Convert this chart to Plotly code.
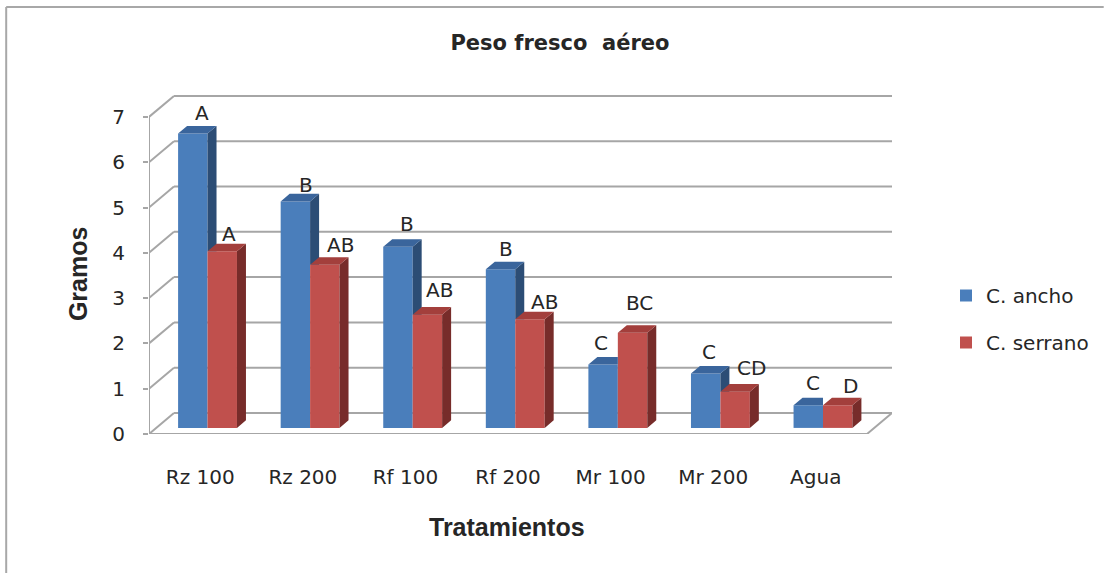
import plotly.graph_objects as go

CATEGORIES = ["Rz 100", "Rz 200", "Rf 100", "Rf 200", "Mr 100", "Mr 200", "Agua"]
ANCHO = [6.5, 5.0, 4.0, 3.5, 1.4, 1.2, 0.5]
SERRANO = [3.9, 3.6, 2.5, 2.4, 2.1, 0.8, 0.5]
ANCHO_LABELS = ["A", "B", "B", "B", "C", "C", "C"]
SERRANO_LABELS = ["A", "AB", "AB", "AB", "BC", "CD", "D"]
Y_TICKS = [0, 1, 2, 3, 4, 5, 6, 7]

# label nudges in pixels
ANCHO_NUDGE = [(9, 20), (11, 16), (9, 23), (5, 20), (-2, 21), (3, 22), (5, 22)]
SERRANO_NUDGE = [(7, 17), (16, 20), (12, 25), (15, 17), (7, 30), (16, 24), (13, 19)]

# plot geometry
W, H = 1105, 573
L, R, T, B = 149, 893, 90, 434
WALL_DX = 25 / 102.71     # wall depth, category units
WALL_DY = 21 / 45.3       # wall depth, value units
BAR_POS = 0.29            # depth of bar front as a share of wall depth
BAR_DEPTH = 0.36
BAR_W = 0.287

BLUE, BLUE_SIDE, BLUE_TOP = "#4a7ebb", "#2c4d75", "#3a659c"
RED, RED_SIDE, RED_TOP = "#c0504d", "#772c2a", "#a33f3c"
GRID = "#a6a6a6"
TEXT = "#262626"
SANS = "DejaVu Sans, sans-serif"
BOLD = "Liberation Sans, sans-serif"

shift_x = BAR_POS * WALL_DX
base_y = BAR_POS * WALL_DY
dx = BAR_DEPTH * WALL_DX
dy = BAR_DEPTH * WALL_DY
xs = [i + shift_x for i in range(len(CATEGORIES))]


def poly(store, pts):
    for p in pts + [pts[0], (None, None)]:
        store[0].append(p[0])
        store[1].append(p[1])


b_side, b_top, r_side, r_top = ([], []), ([], []), ([], []), ([], [])
for x, vb, vr in zip(xs, ANCHO, SERRANO):
    bt, rt = base_y + vb, base_y + vr
    if vb > vr:
        poly(b_side, [(x, bt), (x + dx, bt + dy), (x + dx, rt), (x, rt)])
        poly(b_top, [(x - BAR_W, bt), (x, bt), (x + dx, bt + dy), (x - BAR_W + dx, bt + dy)])
    else:
        poly(b_top, [(x - BAR_W, bt), (x, bt), (x, bt + dy), (x - BAR_W + dx, bt + dy)])
    xr = x + BAR_W
    poly(r_side, [(xr, rt), (xr + dx, rt + dy), (xr + dx, base_y + dy), (xr, base_y)])
    poly(r_top, [(x, rt), (xr, rt), (xr + dx, rt + dy), (x + dx, rt + dy)])

fig = go.Figure()
fig.add_trace(go.Bar(x=xs, y=ANCHO, base=base_y, name="C. ancho", marker=dict(color=BLUE, line_width=0), legendgroup="a"))
fig.add_trace(go.Bar(x=xs, y=SERRANO, base=base_y, name="C. serrano", marker=dict(color=RED, line_width=0), legendgroup="b"))
for data, col in ((b_side, BLUE_SIDE), (b_top, BLUE_TOP), (r_side, RED_SIDE), (r_top, RED_TOP)):
    fig.add_trace(go.Scatter(x=data[0], y=data[1], mode="lines", fill="toself", fillcolor=col,
                             line=dict(width=0, color=col), showlegend=False, hoverinfo="skip"))

x0, x1 = -0.5, len(CATEGORIES) - 0.5
shapes = []


def seg(xa, ya, xb, yb, w=2):
    shapes.append(dict(type="line", xref="x", yref="y", x0=xa, y0=ya, x1=xb, y1=yb,
                       line=dict(color=GRID, width=w), layer="below"))


for v in Y_TICKS:
    seg(x0, v, x0 + WALL_DX, v + WALL_DY)
    seg(x0 + WALL_DX, v + WALL_DY, x1 + WALL_DX, v + WALL_DY)
seg(x0, 0, x0, Y_TICKS[-1])
seg(x0, 0, x1, 0)
seg(x1, 0, x1 + WALL_DX, WALL_DY)

# image frame (top and left edges)
pw, ph = R - L, B - T
shapes.append(dict(type="line", xref="paper", yref="paper", x0=(6 - L) / pw, x1=(W - L) / pw,
                   y0=(B - 7) / ph, y1=(B - 7) / ph, line=dict(color="#a8a8a8", width=2)))
shapes.append(dict(type="line", xref="paper", yref="paper", x0=(6 - L) / pw, x1=(6 - L) / pw,
                   y0=(B - 7) / ph, y1=(B - H) / ph, line=dict(color="#a8a8a8", width=2)))

annotations = []
for i, x in enumerate(xs):
    for lab, v, off, nudge in ((ANCHO_LABELS[i], ANCHO[i], -BAR_W / 2, ANCHO_NUDGE[i]),
                               (SERRANO_LABELS[i], SERRANO[i], BAR_W / 2, SERRANO_NUDGE[i])):
        annotations.append(dict(x=x + off, y=base_y + v, text=lab, showarrow=False, xanchor="center",
                                yanchor="middle", xshift=nudge[0], yshift=nudge[1],
                                font=dict(family=SANS, size=20, color=TEXT)))

# axis titles sit off-centre in the reference, so they are placed as annotations
annotations.append(dict(xref="paper", yref="paper", x=(507 - L) / pw, y=(B - 527) / ph, text="Tratamientos",
                        showarrow=False, xanchor="center", yanchor="middle",
                        font=dict(family=BOLD, size=25, color=TEXT, weight=700)))
annotations.append(dict(xref="paper", yref="paper", x=(78 - L) / pw, y=(B - 274) / ph, text="Gramos",
                        textangle=-90, showarrow=False, xanchor="center", yanchor="middle",
                        font=dict(family=BOLD, size=25, color=TEXT, weight=700)))

fig.update_layout(
    width=W, height=H,
    margin=dict(l=L, r=W - R, t=T, b=H - B, pad=0),
    paper_bgcolor="white", plot_bgcolor="white",
    barmode="group", bargap=1 - 2 * BAR_W, bargroupgap=0,
    title=dict(text="Peso fresco  aéreo", x=560 / W, xanchor="center", y=1 - 43 / H, yanchor="middle",
               font=dict(family=SANS, size=21, color=TEXT, weight=700)),
    xaxis=dict(range=[x0, x1 + WALL_DX], tickvals=list(range(len(CATEGORIES))), ticktext=CATEGORIES,
               showgrid=False, zeroline=False, showline=False, ticks="", ticklabelstandoff=29,
               tickfont=dict(family=SANS, size=20, color=TEXT), automargin=False),
    yaxis=dict(range=[0, (B - T) / 45.3], tickvals=Y_TICKS, showgrid=False, zeroline=False, showline=False,
               ticks="outside", ticklen=5, tickcolor=GRID, tickwidth=2, ticklabelstandoff=14,
               tickfont=dict(family=SANS, size=20, color=TEXT), automargin=False),
    legend=dict(x=(946 - L) / pw, y=(B - 276) / ph, xanchor="left", yanchor="top", traceorder="grouped",
                tracegroupgap=18, font=dict(family=SANS, size=20, color=TEXT), itemwidth=30,
                bgcolor="rgba(0,0,0,0)"),
    shapes=shapes, annotations=annotations,
)

fig.write_html("out.html", config={"displayModeBar": False}, post_script="document.body.style.margin='0';")
